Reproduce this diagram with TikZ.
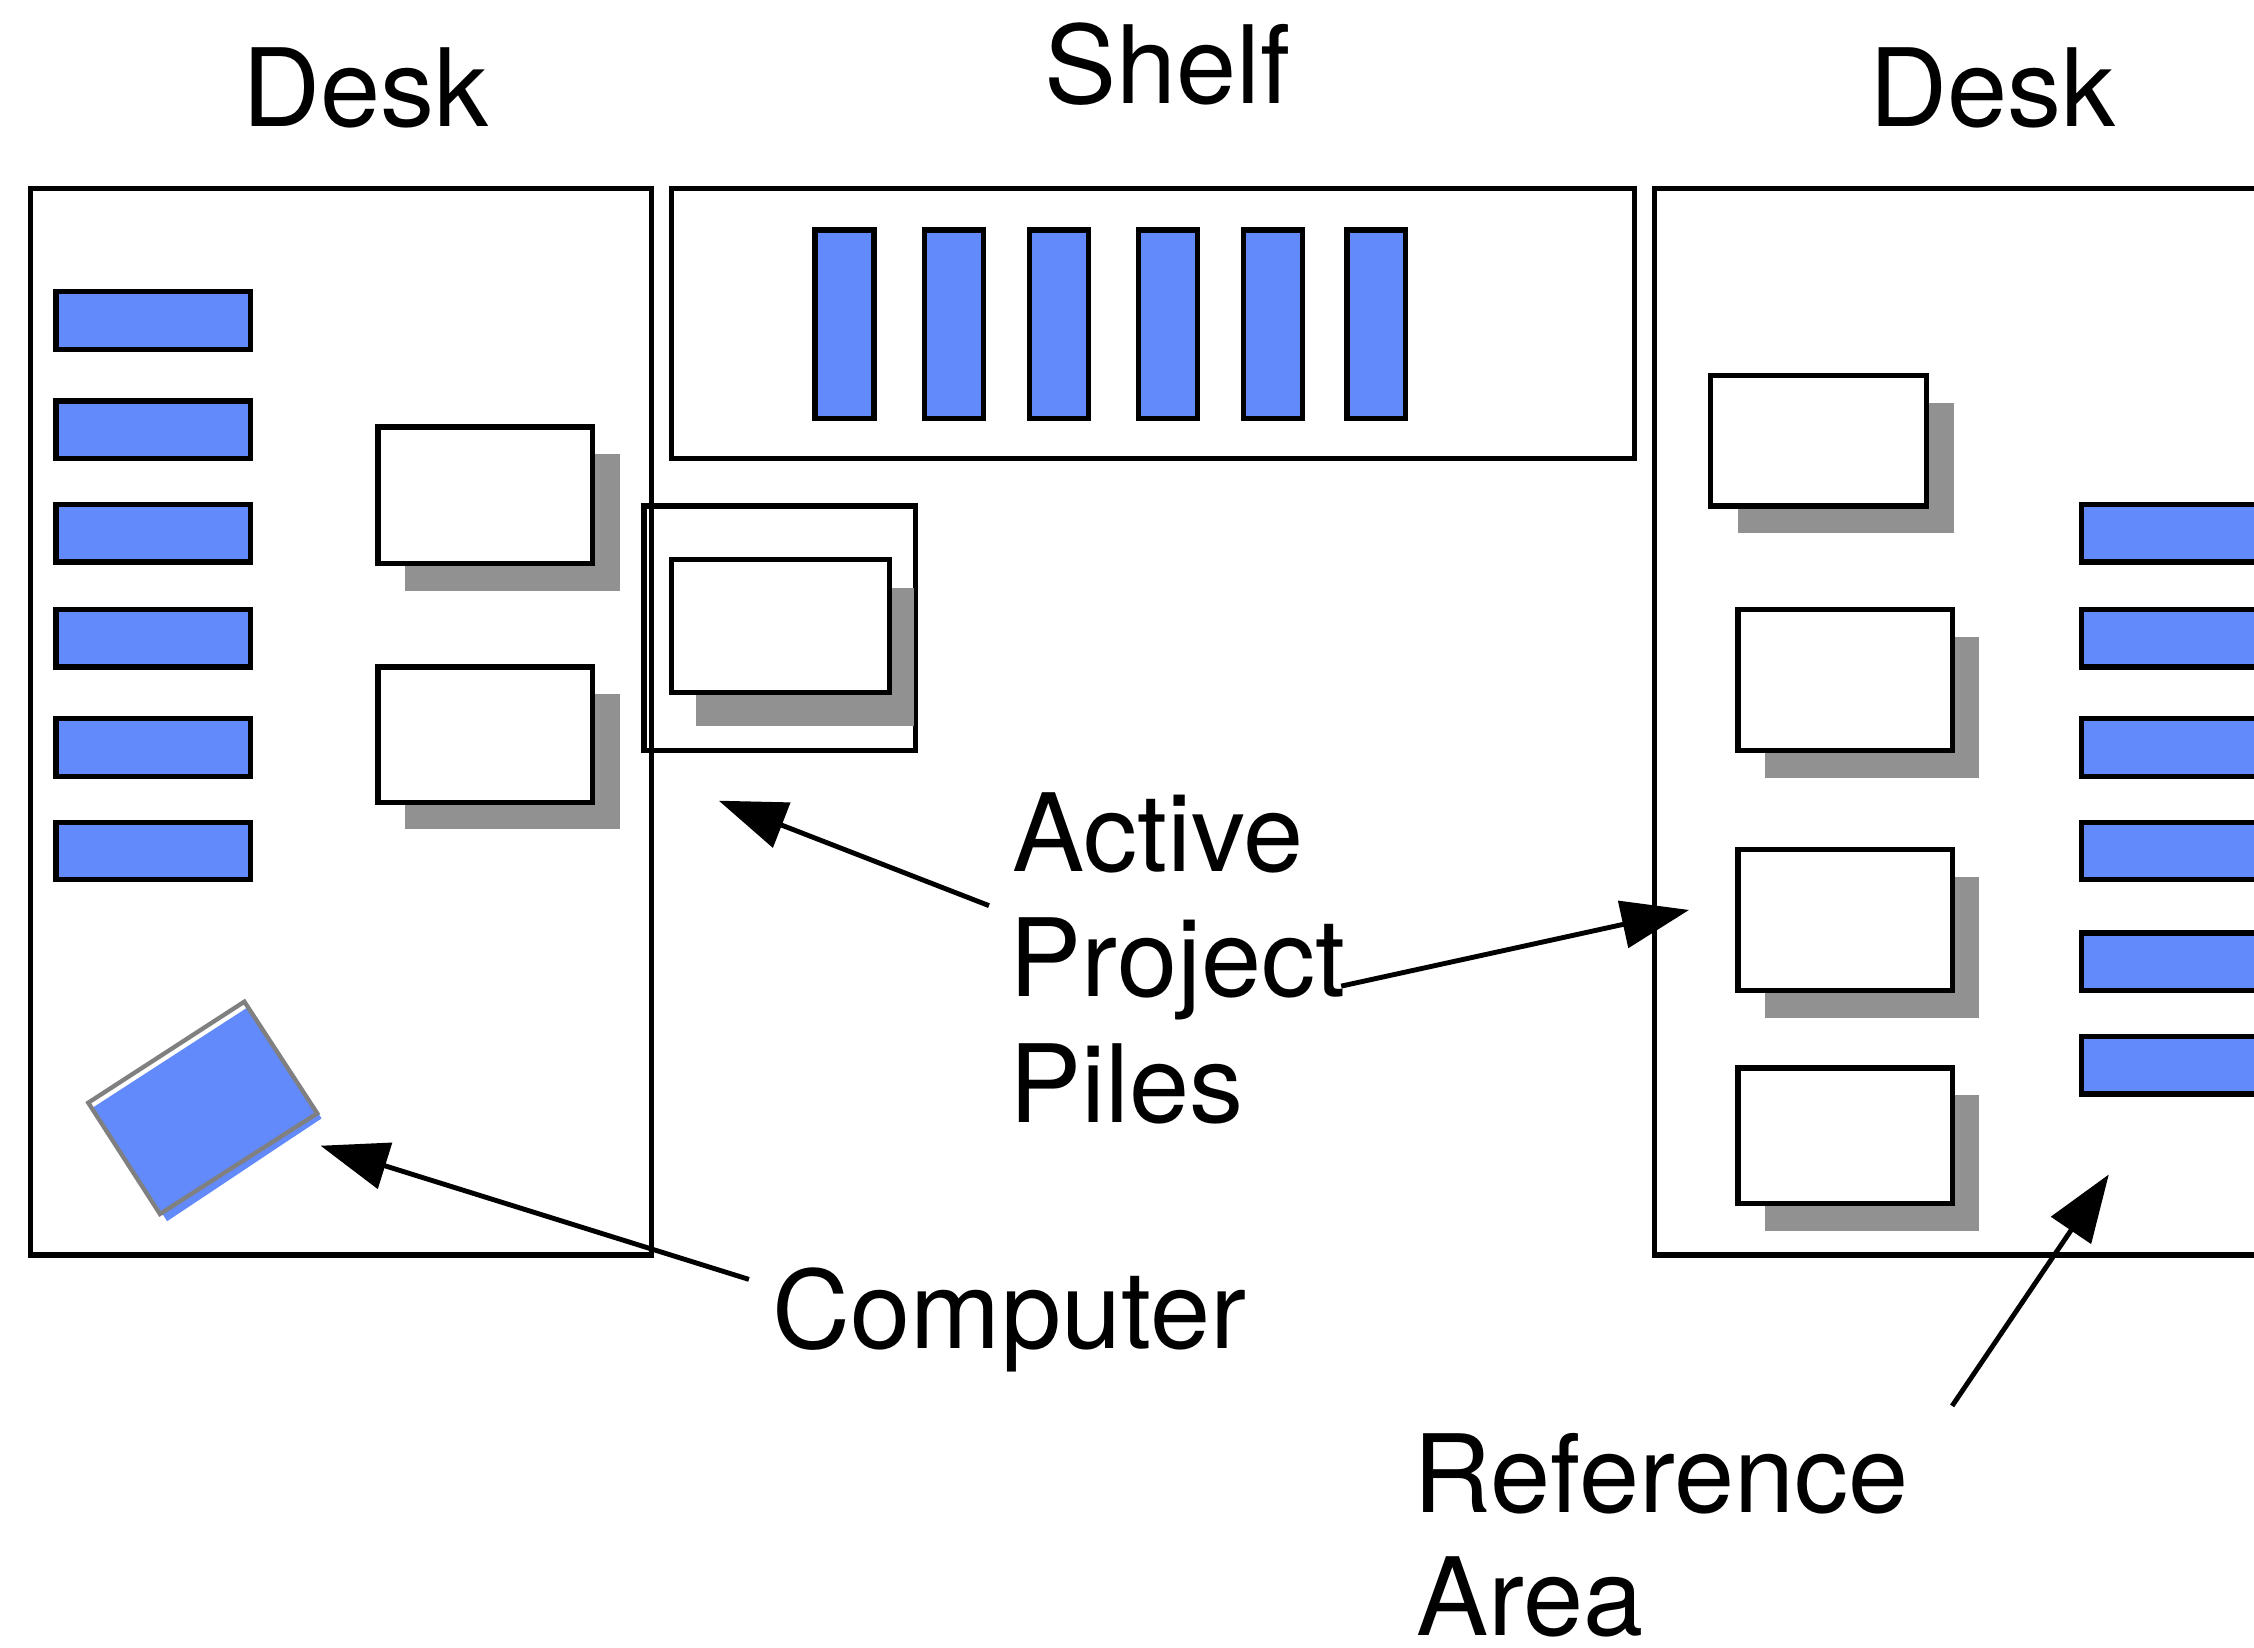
\documentclass[tikz,border=0pt]{standalone}
\usepackage{fontspec}
\setmainfont{TeX Gyre Heros}
\usetikzlibrary{arrows.meta}
\definecolor{bookblue}{RGB}{98,138,250}
\definecolor{shadowgray}{RGB}{145,145,145}
\definecolor{pcgray}{RGB}{128,128,128}
\newcommand{\pilerect}[4]{%
  \fill[shade] ({#1+19},{#2+19}) rectangle ({#3+19},{#4+19});
  \draw[pile] (#1,#2) rectangle (#3,#4);}
\begin{document}
\begin{tikzpicture}[x=0.5pt,y=-0.5pt,
  box/.style={draw=black,line width=1.8pt},
  book/.style={draw=black,line width=1.8pt,fill=bookblue},
  pile/.style={draw=black,line width=1.8pt,fill=white},
  shade/.style={fill=shadowgray},
  lbl/.style={font=\fontsize{37.6}{44}\selectfont,inner sep=0pt},
  arr/.style={line width=1.7pt,-{Triangle[length=23.5pt,width=16.5pt]}}]
\useasboundingbox (0,0) rectangle (1568,1146);
\clip (0,0) rectangle (1568,1146);
\fill[white] (0,0) rectangle (1568,1146);

% furniture outlines
\draw[box] (21,131) rectangle (453,873);
\draw[box] (467,131) rectangle (1137,319);
\draw[box] (1151,131) rectangle (1600,873);

% left desk books
\foreach \y in {203,279,351,424,500,572}
  \draw[book] (39,\y) rectangle (174,\y+40);
% right desk books
\foreach \y in {351,424,500,572,649,721}
  \draw[book] (1448,\y) rectangle (1600,\y+40);
% shelf books
\foreach \x in {567,643,716,792,865,937}
  \draw[book] (\x,160) rectangle (\x+41,291);

% piles on left desk
\pilerect{263}{297}{412}{392}
\pilerect{263}{464}{412}{558}
% active pile in middle
\draw[box] (448,352) rectangle (637,522);
\fill[shade] (484,409) rectangle (636,505);
\draw[pile] (467,389) rectangle (619,482);
% piles on right desk
\pilerect{1190}{261}{1340}{352}
\pilerect{1209}{424}{1358}{522}
\pilerect{1209}{591}{1358}{689}
\pilerect{1209}{743}{1358}{837}

% computer
\fill[bookblue] (64.4,770.6) -- (173,700.3) -- (223.7,778) -- (116.3,849.5) -- cycle;
\draw[pcgray,line width=1.5pt,line join=miter] (61.4,767.1) -- (170,696.8) -- (220.7,774.5) -- (111.3,844.5) -- cycle;

% labels
\node[lbl,anchor=base] (deskL) at (254,88) {Desk};
\node[lbl,anchor=base] (shelf) at (812,72) {Shelf};
\node[lbl,anchor=base] (deskR) at (1386,88) {Desk};
\node[lbl,anchor=base west] (active) at (704,606) {Active};
\node[lbl,anchor=base west] (project) at (702,693) {Project};
\node[lbl,anchor=base west] (piles) at (702,781) {Piles};
\node[lbl,anchor=base west] (computer) at (537,938) {Computer};
\node[lbl,anchor=base west] (reference) at (983,1052) {Reference};
\node[lbl,anchor=base west] (area) at (985,1138) {Area};

% connectors
\coordinate (pileStart) at (688,630);
\coordinate (pileTip) at (500,557);
\coordinate (deskStart) at (933,686);
\coordinate (deskTip) at (1175,633);
\coordinate (pcStart) at (521,890);
\coordinate (pcTip) at (223,797);
\coordinate (refStart) at (1358,978);
\coordinate (refTip) at (1467,817);
\draw[arr] (pileStart) -- (pileTip);
\draw[arr] (deskStart) -- (deskTip);
\draw[arr] (pcStart) -- (pcTip);
\draw[arr] (refStart) -- (refTip);
\end{tikzpicture}
\end{document}
